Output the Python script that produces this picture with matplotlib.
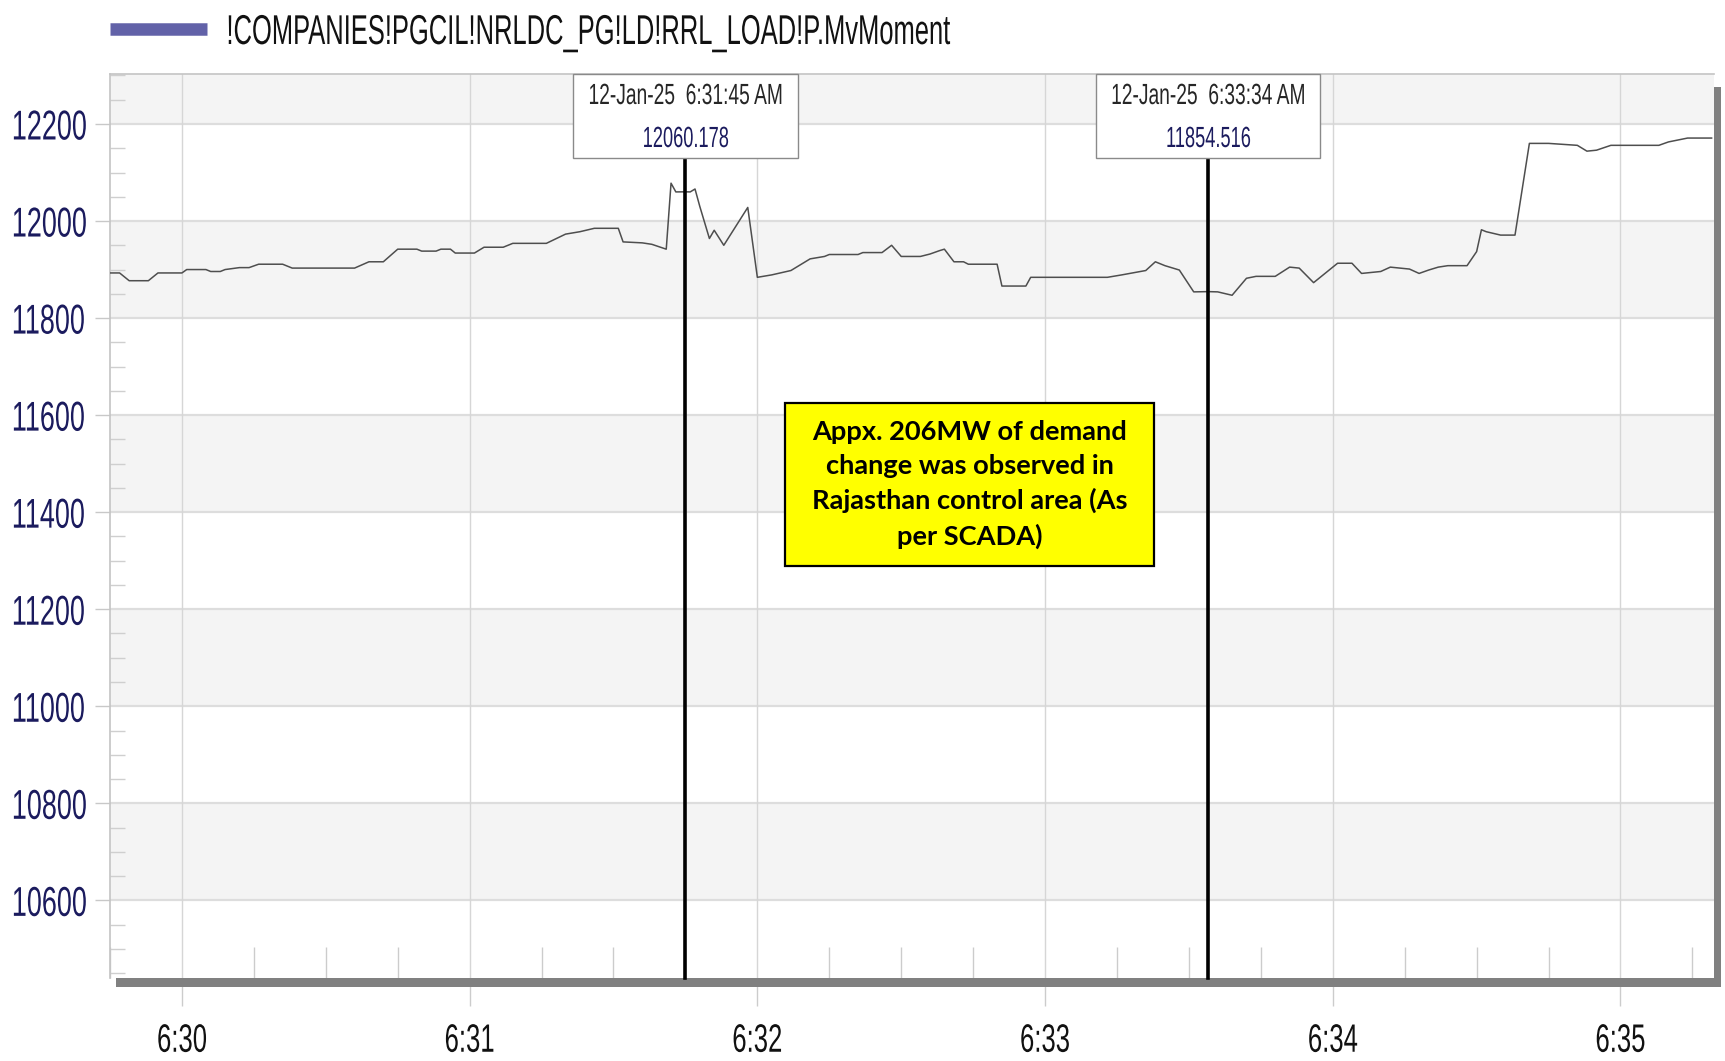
import matplotlib
matplotlib.use("Agg")
import matplotlib.pyplot as plt
import matplotlib.dates as mdates
from matplotlib import font_manager as fm
from matplotlib.patches import Rectangle
from matplotlib.patheffects import AbstractPathEffect
from matplotlib.transforms import Affine2D, blended_transform_factory
import pandas as pd

# ---- data -------------------------------------------------------------
series_name = "!COMPANIES!PGCIL!NRLDC_PG!LD!RRL_LOAD!P.MvMoment"
day = "2025-01-12"

times = [
    "06:29:45", "06:29:47", "06:29:49", "06:29:53", "06:29:55", "06:30:00",
    "06:30:01", "06:30:05", "06:30:06", "06:30:08", "06:30:09", "06:30:12",
    "06:30:14", "06:30:16", "06:30:21", "06:30:23", "06:30:36", "06:30:39",
    "06:30:42", "06:30:45", "06:30:49", "06:30:50", "06:30:53", "06:30:54",
    "06:30:56", "06:30:57", "06:31:01", "06:31:03", "06:31:07", "06:31:09",
    "06:31:16", "06:31:20", "06:31:23", "06:31:26", "06:31:31", "06:31:32",
    "06:31:36", "06:31:38", "06:31:41", "06:31:42", "06:31:43", "06:31:45",
    "06:31:46", "06:31:47", "06:31:48", "06:31:50", "06:31:51", "06:31:53",
    "06:31:58", "06:32:00", "06:32:03", "06:32:07", "06:32:11", "06:32:14",
    "06:32:15", "06:32:21", "06:32:22", "06:32:26", "06:32:28", "06:32:30",
    "06:32:34", "06:32:36", "06:32:38", "06:32:39", "06:32:41", "06:32:43",
    "06:32:44", "06:32:50", "06:32:51", "06:32:56", "06:32:57", "06:33:13",
    "06:33:16", "06:33:21", "06:33:23", "06:33:25", "06:33:28", "06:33:31",
    "06:33:34", "06:33:36", "06:33:39", "06:33:42", "06:33:44", "06:33:48",
    "06:33:51", "06:33:53", "06:33:56", "06:34:01", "06:34:04", "06:34:06",
    "06:34:10", "06:34:12", "06:34:16", "06:34:18", "06:34:20", "06:34:22",
    "06:34:24", "06:34:28", "06:34:30", "06:34:31", "06:34:32", "06:34:35",
    "06:34:38", "06:34:41", "06:34:45", "06:34:51", "06:34:53", "06:34:55",
    "06:34:58", "06:35:08", "06:35:10", "06:35:14", "06:35:19",
]
load_mw = [
    11893, 11893, 11877, 11877, 11893, 11893,
    11900, 11900, 11896, 11896, 11900, 11904,
    11904, 11911, 11911, 11903, 11903, 11916,
    11916, 11942, 11942, 11938, 11938, 11942,
    11942, 11934, 11934, 11946, 11946, 11954,
    11954, 11973, 11978, 11985, 11985, 11957,
    11955, 11952, 11942, 12078, 12060, 12060.178,
    12060, 12066, 12030, 11964, 11981, 11950,
    12028, 11884, 11889, 11898, 11922, 11927,
    11931, 11931, 11935, 11935, 11950, 11927,
    11927, 11932, 11939, 11942, 11916, 11916,
    11911, 11911, 11866, 11866, 11884, 11884,
    11889, 11898, 11916, 11908, 11899, 11854,
    11854.516, 11854, 11847, 11882, 11886, 11886,
    11905, 11903, 11873, 11913, 11913, 11892,
    11896, 11905, 11901, 11892, 11899, 11905,
    11908, 11908, 11937, 11982, 11978, 11971,
    11971, 12160, 12160, 12156, 12144, 12146,
    12156, 12156, 12163, 12171, 12171,
]

# cursor readouts
cursor_times = ["06:31:45", "06:33:34"]
cursor_values = [12060.178, 11854.516]

# annotation
note_lines = [
    "Appx. 206MW of demand",
    "change was observed in",
    "Rajasthan control area (As",
    "per SCADA)",
]

y_ticks = [10600, 10800, 11000, 11200, 11400, 11600, 11800, 12000, 12200]
x_tick_times = ["06:30", "06:31", "06:32", "06:33", "06:34", "06:35"]
x_tick_labels = ["6:30", "6:31", "6:32", "6:33", "6:34", "6:35"]
x_window = ("06:29:45", "06:35:19.5")
y_window = (10440, 12303)

# ---- fonts ------------------------------------------------------------
available = {f.name for f in fm.fontManager.ttflist}
label_face = "Liberation Sans" if "Liberation Sans" in available else "DejaVu Sans"
bold_face = "Lato" if "Lato" in available else "DejaVu Sans"


class Squeeze(AbstractPathEffect):
    """Draw text glyphs narrowed horizontally about an anchor edge."""

    def __init__(self, sx, anchor="center"):
        super().__init__()
        self.sx = sx
        self.anchor = anchor

    def draw_path(self, renderer, gc, tpath, affine, rgbFace=None):
        ext = tpath.get_extents(affine)
        if self.anchor == "left":
            x0 = ext.x0
        elif self.anchor == "right":
            x0 = ext.x1
        else:
            x0 = 0.5 * (ext.x0 + ext.x1)
        squeeze = Affine2D().translate(-x0, 0).scale(self.sx, 1.0).translate(x0, 0)
        renderer.draw_path(gc, tpath, affine + squeeze, rgbFace)


def stamp(clock):
    return pd.to_datetime(f"{day} {clock}", format="ISO8601")


# ---- figure -----------------------------------------------------------
W, H = 1725, 1061
fig = plt.figure(figsize=(W / 100, H / 100), dpi=100)
fig.patch.set_facecolor("white")
ax = fig.add_axes([110 / W, (H - 978) / H, 1604 / W, 904 / H])
ax.set_facecolor("white")

t = [stamp(s) for s in times]
ax.set_xlim(stamp(x_window[0]), stamp(x_window[1]))
ax.set_ylim(*y_window)

# alternating horizontal bands
band_edges = y_ticks + [y_window[1]]
for i, lo in enumerate(band_edges[:-1]):
    if i % 2 == 0:
        ax.axhspan(lo, band_edges[i + 1], color="#f4f4f4", zorder=0, lw=0)
for yv in y_ticks:
    ax.axhline(yv, color="#dddddd", lw=1.6, zorder=0.5)

# axes ticks
ax.set_xticks([stamp(s) for s in x_tick_times], x_tick_labels)
ax.xaxis.set_minor_locator(mdates.SecondLocator(bysecond=[15, 30, 45]))
ax.grid(axis="x", which="major", color="#d6d6d6", lw=1.0, zorder=0.6)
ax.set_yticks(y_ticks, [str(v) for v in y_ticks])
ax.yaxis.set_minor_locator(matplotlib.ticker.MultipleLocator(50))

ax.tick_params(axis="y", which="major", direction="out", length=11, width=1,
               color="#c8c8c8", pad=60.5, labelsize=30, labelcolor="#1b1b5e")
ax.tick_params(axis="y", which="minor", direction="in", length=11, width=1,
               color="#cfcfcf")
ax.tick_params(axis="x", which="major", direction="out", length=20, width=1,
               color="#cccccc", pad=11.5, labelsize=28.5, labelcolor="#111111")
ax.tick_params(axis="x", which="minor", direction="in", length=22, width=1,
               color="#cccccc")
for lab in ax.get_xticklabels() + ax.get_yticklabels():
    lab.set_fontfamily(label_face)
for lab in ax.get_yticklabels():
    lab.set_horizontalalignment("left")

for side in ("top", "left"):
    ax.spines[side].set_color("#c4c4c4")
    ax.spines[side].set_linewidth(1.2)
for side in ("bottom", "right"):
    ax.spines[side].set_visible(False)

# raised-frame shading along bottom and right edges
ax.add_patch(Rectangle((0.004, -0.0105), 1.0, 0.0105, transform=ax.transAxes,
                       facecolor="#808080", edgecolor="none", clip_on=False, zorder=5))
ax.add_patch(Rectangle((1.0, -0.0105), 0.0045, 0.996,
                       transform=ax.transAxes, facecolor="#808080",
                       edgecolor="none", clip_on=False, zorder=5))

# load trace
ax.plot(t, load_mw, color="#4e4e4e", lw=1.1, zorder=3, label=series_name)

# cursor lines with readout boxes
bt = blended_transform_factory(ax.transData, ax.transAxes)
box_bottom = 1 - 84 / 904
half_w = pd.Timedelta(seconds=23.4)
cursor_texts = []
for ct, cv in zip(cursor_times, cursor_values):
    tc = stamp(ct)
    ax.plot([tc, tc], [0, box_bottom], transform=bt, color="black", lw=2.6,
            zorder=6, clip_on=False)
    left = mdates.date2num(tc - half_w)
    width = mdates.date2num(tc + half_w) - left
    ax.add_patch(Rectangle((left, box_bottom), width, 1 - box_bottom,
                           transform=bt, facecolor="white", edgecolor="#8a8a8a",
                           lw=1.0, zorder=7, clip_on=False))
    date_txt = (f"{tc.day}-{tc.strftime('%b')}-{tc.strftime('%y')}  "
                f"{tc.hour % 12 or 12}:{tc.strftime('%M:%S')} "
                f"{'AM' if tc.hour < 12 else 'PM'}")
    d = ax.text(tc, 1 - 22 / 904, date_txt, transform=bt, ha="center",
                va="center", fontsize=21, color="#262626", zorder=8,
                family=label_face)
    v = ax.text(tc, 1 - 65 / 904, f"{cv:.3f}", transform=bt, ha="center",
                va="center", fontsize=21, color="#1b1b5e", zorder=8,
                family=label_face)
    cursor_texts.append((d, v))

# annotation box
nb_x0, nb_x1 = (785 - 110) / 1604, (1154 - 110) / 1604
nb_y0, nb_y1 = (978 - 566) / 904, (978 - 403) / 904
ax.add_patch(Rectangle((nb_x0, nb_y0), nb_x1 - nb_x0, nb_y1 - nb_y0,
                       transform=ax.transAxes, facecolor="#ffff00",
                       edgecolor="black", lw=1.6, zorder=8))
ax.text((nb_x0 + nb_x1) / 2, (nb_y0 + nb_y1) / 2, "\n".join(note_lines),
        transform=ax.transAxes, ha="center", va="center", fontsize=19.6,
        fontweight="bold", family=bold_face, linespacing=1.48, zorder=9)

# legend
leg = fig.legend(loc="center left", bbox_to_anchor=(110 / W, 1 - 33 / H),
                 frameon=False, borderpad=0, borderaxespad=0,
                 handlelength=2.33, handletextpad=0.43,
                 prop=fm.FontProperties(family=label_face, size=30))
for h in leg.legend_handles:
    h.set_color("#6262a8")
    h.set_linewidth(9)
    h.set_solid_capstyle("butt")
for txt in leg.get_texts():
    txt.set_color("#111111")

# narrow the label glyphs to the condensed widths of the display face
fig.canvas.draw()
renderer = fig.canvas.get_renderer()


def squeeze_to(texts, target_px, anchor):
    ref = texts[0].get_window_extent(renderer).width
    pe = [Squeeze(target_px / ref, anchor)]
    for tx in texts:
        tx.set_path_effects(pe)


squeeze_to(ax.get_yticklabels(), 75, "left")
squeeze_to(ax.get_xticklabels(), 50, "center")
squeeze_to(leg.get_texts(), 723, "left")
squeeze_to([d for d, _ in cursor_texts], 194, "center")
squeeze_to([v for _, v in cursor_texts], 86, "center")

fig.savefig("out.png", dpi=100, facecolor="white")
